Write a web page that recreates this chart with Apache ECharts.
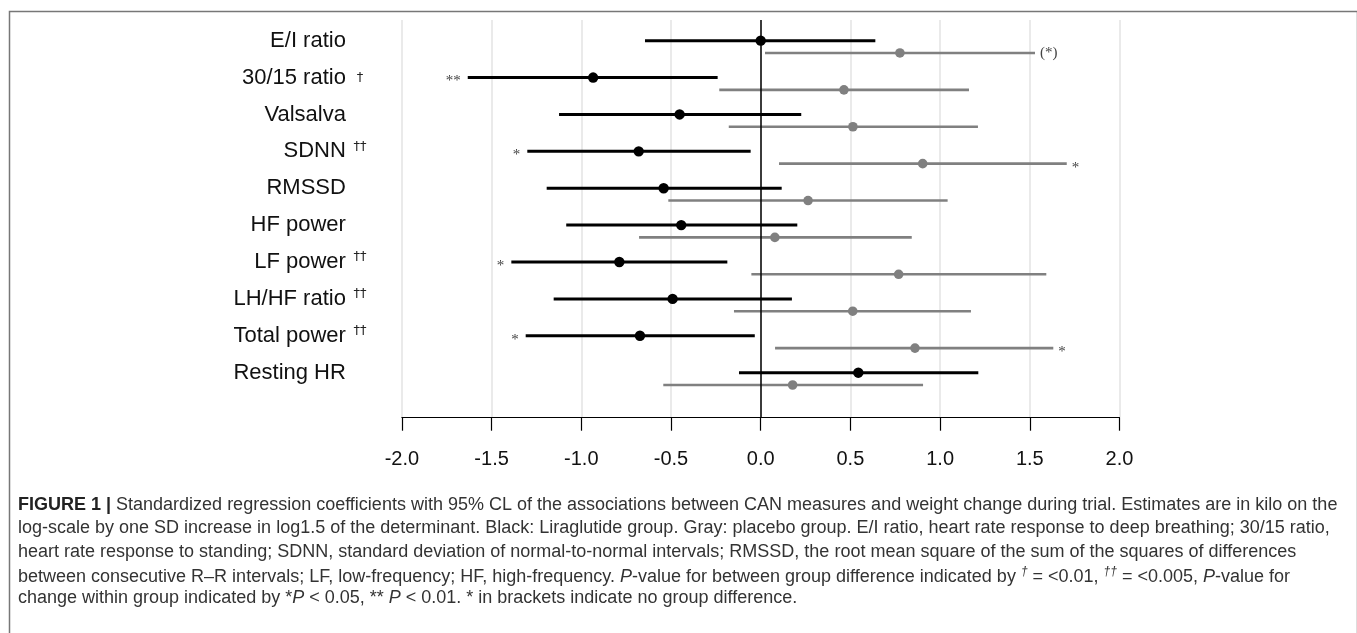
<!DOCTYPE html>
<html>
<head>
<meta charset="utf-8">
<script src="https://cdn.jsdelivr.net/npm/echarts@6/dist/echarts.min.js"></script>
<style>
html,body{margin:0;padding:0;background:#fff;}
#c{width:1357px;height:633px;}
</style>
</head>
<body>
<div id="c"></div>
<script>
// ---- data ----
const measures = ['E/I ratio','30/15 ratio','Valsalva','SDNN','RMSSD','HF power','LF power','LH/HF ratio','Total power','Resting HR'];
const groupDiff = ['', '†', '', '††', '', '', '††', '††', '††', ''];

const liraLow  = [-0.645, -1.633, -1.124, -1.301, -1.193, -1.084, -1.390, -1.154, -1.310, -0.121];
const liraEst  = [ 0.000, -0.934, -0.452, -0.680, -0.541, -0.443, -0.788, -0.491, -0.673,  0.544];
const liraHigh = [ 0.639, -0.240,  0.226, -0.056,  0.117,  0.204, -0.186,  0.174, -0.033,  1.213];
const liraSig  = ['', '**', '', '*', '', '', '*', '', '*', ''];

const placLow  = [ 0.024, -0.231, -0.178,  0.102, -0.515, -0.678, -0.052, -0.149,  0.080, -0.543];
const placEst  = [ 0.776,  0.464,  0.514,  0.903,  0.264,  0.079,  0.769,  0.513,  0.860,  0.178];
const placHigh = [ 1.529,  1.161,  1.211,  1.706,  1.042,  0.842,  1.592,  1.172,  1.631,  0.905];
const placSig  = ['(*)', '', '', '*', '', '', '', '', '*', ''];

const xTicks = [-2.0, -1.5, -1.0, -0.5, 0.0, 0.5, 1.0, 1.5, 2.0];

// ---- chart ----
const chart = echarts.init(document.getElementById('c'), null, {renderer:'canvas'});
const GRAY_SHIFT = 1/3; // placebo row sits a third of a row below the liraglutide row

function makeData(lo, est, hi, shift){
  return measures.map((m,i)=>({value:[lo[i], est[i], hi[i], i + shift]}));
}

function renderer(color, lw, r, notes, side){
  return function(params, api){
    const lo = api.value(0), est = api.value(1), hi = api.value(2), y = api.value(3);
    const a = api.coord([lo, y]), b = api.coord([hi, y]), e = api.coord([est, y]);
    const children = [
      {type:'line', shape:{x1:a[0], y1:a[1], x2:b[0], y2:b[1]}, style:{stroke:color, lineWidth:lw}},
      {type:'circle', shape:{cx:e[0], cy:e[1], r:r}, style:{fill:color}}
    ];
    const note = notes[params.dataIndex];
    if (note){
      const star = note.indexOf('(') < 0;
      children.push({
        type:'text',
        x: side === 'left' ? a[0] - 7 : b[0] + 5,
        y: a[1] + (star ? 4 : 0),
        style:{
          text: note, fill:'#444',
          font: '15px "Liberation Serif", "Times New Roman", serif',
          align: side === 'left' ? 'right' : 'left',
          verticalAlign:'middle'
        }
      });
    }
    return {type:'group', children};
  };
}

const labelRich = {
  m:{fontSize:22, fontFamily:'"Liberation Sans", Arial, sans-serif', color:'#111'},
  d:{fontSize:13, fontFamily:'"DejaVu Sans", sans-serif', color:'#222', width:22, align:'left', padding:[0,0,0,3], verticalAlign:'middle'},
  s:{fontSize:13, fontFamily:'"DejaVu Sans", sans-serif', color:'#222', width:22, align:'left', padding:[0,0,10,3]},
  e:{fontSize:13, width:22, padding:[0,0,0,3]}
};

const capFont = '"Liberation Sans", Arial, sans-serif';
const capSize = 18;
const capRich = {
  b:{fontWeight:'bold', fontSize:capSize, fontFamily:capFont, fill:'#222'},
  i:{fontStyle:'italic', fontSize:capSize, fontFamily:capFont, fill:'#333'},
  s:{fontStyle:'italic', fontSize:12, fontFamily:capFont, fill:'#333', padding:[0,0,10,0]}
};
const capLines = [
  '{b|FIGURE 1 |} Standardized regression coefficients with 95% CL of the associations between CAN measures and weight change during trial. Estimates are in kilo on the',
  'log-scale by one SD increase in log1.5 of the determinant. Black: Liraglutide group. Gray: placebo group. E/I ratio, heart rate response to deep breathing; 30/15 ratio,',
  'heart rate response to standing; SDNN, standard deviation of normal-to-normal intervals; RMSSD, the root mean square of the sum of the squares of differences',
  'between consecutive R–R intervals; LF, low-frequency; HF, high-frequency. {i|P}-value for between group difference indicated by {s|†} = <0.01, {s|††} = <0.005, {i|P}-value for',
  'change within group indicated by *{i|P} < 0.05, ** {i|P} < 0.01. * in brackets indicate no group difference.'
];

const graphics = [
  {type:'rect', left:7, top:9, shape:{x:0,y:0,width:1348,height:700}, style:{fill:'none', stroke:'#777', lineWidth:1.5}, silent:true}
];
capLines.forEach((t,k)=>{
  graphics.push({type:'text', left:18, top:496 + k*23.3, silent:true,
    style:{text:t, font: capSize + 'px ' + capFont, fill:'#333', rich:capRich}});
});

chart.setOption({
  animation:false,
  backgroundColor:'#fff',
  grid:{left:401.9, right:237.5, top:20, bottom:215.3, containLabel:false},
  xAxis:{
    type:'value', min:-2, max:2, interval:0.5,
    axisLine:{show:true, onZero:false, lineStyle:{color:'#000', width:1.2}},
    axisTick:{show:true, length:13, lineStyle:{color:'#000', width:1.2}},
    axisLabel:{margin:32, fontSize:20, fontFamily:'"Liberation Sans", Arial, sans-serif', color:'#111',
      customValues: xTicks, formatter:(v)=>Number(v).toFixed(1)},
    splitLine:{show:true, lineStyle:{color:'#e3e3e3', width:1.5}}
  },
  yAxis:{
    type:'value', inverse:true, min:-0.56, max:10.22,
    axisLine:{show:false}, axisTick:{show:false}, splitLine:{show:false},
    axisLabel:{
      show:true, margin:31, customValues: measures.map((m,i)=>i),
      formatter:(v)=>{
        const i = Math.round(v);
        const dg = groupDiff[i];
        if (dg === '†') return '{m|' + measures[i] + '}{d|' + dg + '}';
        if (dg === '††') return '{m|' + measures[i] + '}{s|' + dg + '}';
        return '{m|' + measures[i] + '}{e| }';
      },
      rich: labelRich
    }
  },
  graphic: graphics,
  series:[
    {
      type:'custom', name:'Placebo', z:2,
      renderItem: renderer('#808080', 2.6, 4.8, placSig, 'right'),
      encode:{x:[0,1,2], y:3},
      data: makeData(placLow, placEst, placHigh, GRAY_SHIFT),
      markLine:{silent:true, symbol:'none', label:{show:false}, lineStyle:{color:'#000', width:1.5, type:'solid'},
        data:[{xAxis:0}]}
    },
    {
      type:'custom', name:'Liraglutide', z:3,
      renderItem: renderer('#000', 3, 5.2, liraSig, 'left'),
      encode:{x:[0,1,2], y:3},
      data: makeData(liraLow, liraEst, liraHigh, 0)
    }
  ]
});
</script>
</body>
</html>
